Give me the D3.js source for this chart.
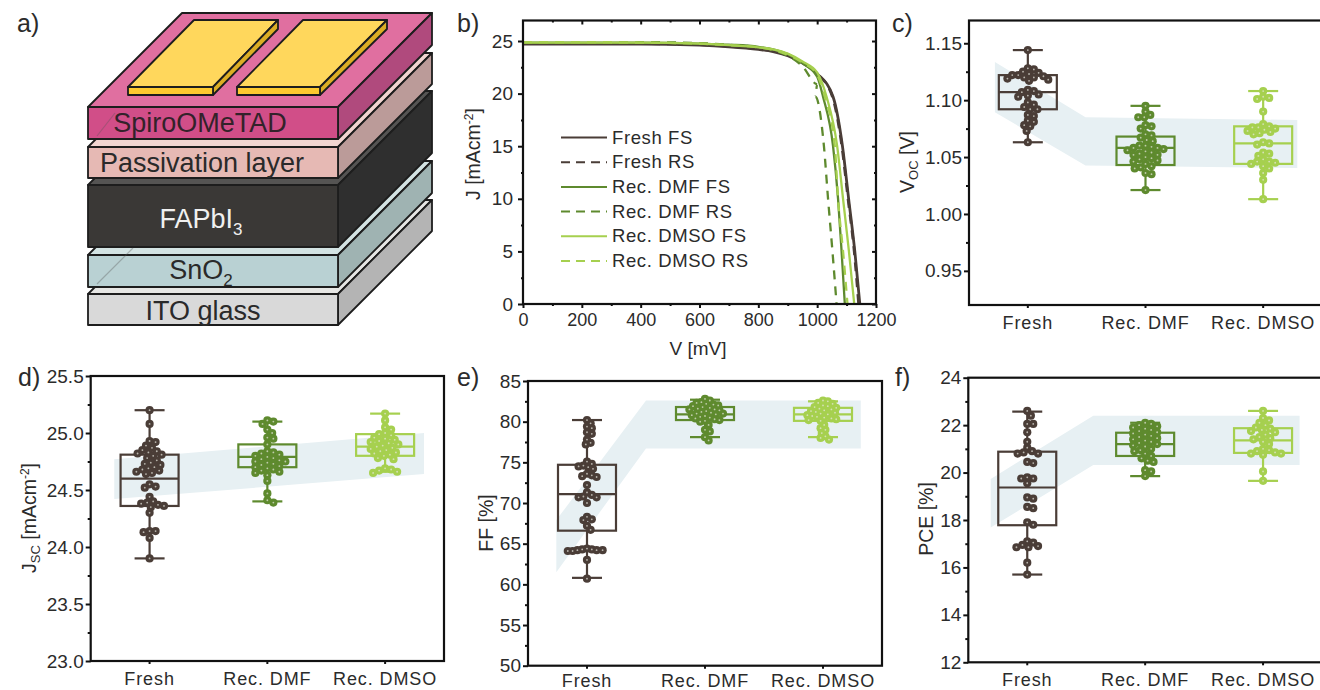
<!DOCTYPE html>
<html><head><meta charset="utf-8">
<script src="https://cdn.jsdelivr.net/npm/d3@7/dist/d3.min.js"></script>
<style>
html,body{margin:0;padding:0;background:#fff;overflow:hidden}
svg{display:block}
text{font-family:"Liberation Sans",Arial,sans-serif;fill:#2b2b2b}
</style></head><body>
<svg id="c" width="1320" height="690"></svg>
<script>
// ---------- data ----------
const categories = ["Fresh","Rec. DMF","Rec. DMSO"];
const seriesNames = ["Fresh FS","Fresh RS","Rec. DMF FS","Rec. DMF RS","Rec. DMSO FS","Rec. DMSO RS"];
const jvVoltage = [0,200,400,600,700,800,850,900,950,1000];
const jvPlateau = [
 [24.7,24.7,24.7,24.6,24.45,24.2,24.0,23.6,22.9,21.9],
 [24.75,24.75,24.75,24.65,24.5,24.25,24.05,23.65,22.95,21.9],
 [24.85,24.85,24.85,24.75,24.65,24.45,24.2,23.75,22.9,21.6],
 [24.9,24.9,24.9,24.8,24.65,24.4,24.15,23.6,22.6,20.9],
 [24.85,24.85,24.85,24.75,24.6,24.4,24.2,23.8,23.05,22.0],
 [24.9,24.9,24.85,24.75,24.6,24.4,24.15,23.7,22.95,21.8]];
const jvTailV = [
 [1054,1086,1107,1128,1145],
 [1052,1084,1105,1126,1141],
 [1020,1054,1071,1083,1094],
 [994,1023,1037,1052,1066],
 [1032,1068,1088,1108,1126],
 [1026,1060,1071,1088,1103]];
const jvTailJ = [19.7,15,10,5,0];

const vocFresh=[1.144,1.128,1.127,1.125,1.124,1.123,1.122,1.122,1.121,1.120,1.120,1.119,1.118,1.117,1.109,1.108,1.107,1.105,1.104,1.103,1.098,1.096,1.094,1.092,1.092,1.087,1.086,1.082,1.081,1.078,1.077,1.073,1.063];
const vocDmf=[1.095,1.09,1.087,1.085,1.085,1.078,1.077,1.075,1.07,1.069,1.067,1.065,1.064,1.06,1.06,1.059,1.058,1.058,1.057,1.056,1.055,1.054,1.053,1.052,1.052,1.05,1.049,1.048,1.047,1.046,1.044,1.042,1.041,1.04,1.036,1.035,1.021];
const vocDmso=[1.108,1.103,1.102,1.101,1.09,1.079,1.077,1.076,1.076,1.075,1.074,1.073,1.072,1.071,1.07,1.063,1.062,1.061,1.054,1.053,1.051,1.048,1.046,1.046,1.045,1.044,1.042,1.04,1.036,1.03,1.013];
const vocBoxes=[[1.063,1.092,1.107,1.122,1.144],[1.021,1.043,1.058,1.068,1.095],[1.013,1.044,1.062,1.077,1.108]];
const vocBand={pos:[-0.28,0.49,2.29],hi:[1.1335,1.085,1.0826],lo:[1.0894,1.0425,1.0404]};

const jscFresh=[25.2,25.08,24.93,24.92,24.89,24.87,24.85,24.84,24.83,24.82,24.81,24.8,24.78,24.76,24.74,24.73,24.72,24.7,24.69,24.68,24.67,24.66,24.65,24.64,24.55,24.53,24.52,24.44,24.4,24.39,24.38,24.37,24.36,24.35,24.3,24.14,24.14,24.13,24.08,23.9];
const jscDmf=[25.11,25.1,25.08,25.03,25.0,24.96,24.95,24.9,24.84,24.83,24.82,24.81,24.8,24.79,24.78,24.77,24.76,24.75,24.75,24.74,24.73,24.72,24.71,24.7,24.69,24.68,24.67,24.66,24.65,24.63,24.58,24.47,24.41,24.39];
const jscDmso=[25.17,25.11,25.05,25.03,25.0,24.99,24.98,24.96,24.95,24.94,24.93,24.92,24.91,24.9,24.89,24.88,24.87,24.86,24.85,24.84,24.83,24.82,24.81,24.8,24.78,24.77,24.69,24.68,24.67,24.66,24.65];
const jscBoxes=[[23.9,24.36,24.6,24.81,25.2],[24.4,24.7,24.79,24.9,25.1],[24.66,24.8,24.88,24.99,25.17]];
const jscBand={pos:[-0.3,2.33],hi:[24.77,25.0],lo:[24.42,24.64]};

const ffFresh=[80.2,79.8,79.4,79.2,78.7,78.5,77.8,77.4,77.2,75.1,74.8,74.6,74.5,74.4,74.2,73.6,73.4,73.3,73.2,72.2,71.3,71.0,70.8,70.7,70.7,70.0,68.3,68.0,67.9,67.2,66.7,64.4,64.3,64.3,64.2,64.2,64.2,64.1,64.1,63.0,60.7];
const ffDmf=[82.8,82.6,82.4,82.3,82.2,82.1,82.0,81.9,81.8,81.7,81.6,81.5,81.5,81.4,81.3,81.2,81.1,81.0,81.0,80.9,80.8,80.7,80.6,80.5,80.4,80.3,80.2,80.1,80.0,79.6,79.0,78.8,78.1,77.7];
const ffDmso=[82.6,82.5,82.3,82.2,82.0,81.9,81.8,81.7,81.6,81.5,81.4,81.3,81.2,81.1,81.0,80.9,80.8,80.7,80.6,80.5,80.4,80.3,80.2,80.1,79.6,79.2,79.0,78.6,78.2,78.0,77.8];
const ffBoxes=[[60.8,66.6,71.1,74.7,80.2],[78.1,80.2,80.9,81.8,82.7],[78.1,80.1,80.9,81.7,82.5]];
const ffBand={pos:[-0.26,0.5,2.32],hi:[67.9,82.6,82.6],lo:[61.5,76.7,76.7]};

const pceFresh=[22.6,22.4,22.05,22.05,21.7,21.3,21.05,20.9,20.85,20.8,20.8,20.45,20.4,19.8,19.75,19.75,19.55,18.95,18.9,18.55,18.5,17.9,17.8,17.1,17.05,16.95,16.9,16.85,16.85,16.2,15.7];
const pceDmf=[22.1,22.05,22.0,21.95,21.9,21.85,21.8,21.75,21.7,21.65,21.6,21.55,21.5,21.45,21.4,21.35,21.3,21.25,21.2,21.15,21.1,21.0,20.95,20.9,20.8,20.7,20.6,20.5,20.45,20.1,20.05,19.85];
const pceDmso=[22.6,22.3,22.2,22.1,22.0,21.9,21.85,21.8,21.75,21.7,21.6,21.5,21.45,21.4,21.3,21.2,21.0,20.95,20.9,20.85,20.8,20.8,20.75,20.05,19.65];
const pceBoxes=[[15.7,17.78,19.37,20.88,22.57],[19.85,20.7,21.2,21.68,22.1],[19.65,20.83,21.36,21.87,22.6]];
const pceBand={pos:[-0.31,0.56,2.31],hi:[19.73,22.4,22.4],lo:[17.68,20.32,20.32]};

// ---------- styles ----------
const colors=["#4a3d37","#5e8a2e","#a6d04f"];
const jvColors=["#4a3d37","#4a3d37","#5e8a2e","#5e8a2e","#a6d04f","#a6d04f"];
const bandColor="#e7f0f3";
const svg=d3.select("#c");

// ---------- schematic (panel a) ----------
const sch=svg.append("g");
const L=88,R=338,DX=94,DY=94;
const layers=[
 {t:294,b:325,top:"#e6e6e4",front:"#d9d9d9",side:"#b4b4b4"},
 {t:255,b:287,top:"#d3e3e3",front:"#b9d1d3",side:"#9fb3b2"},
 {t:185,b:247,top:"#555453",front:"#3a3836",side:"#2f2f2f"},
 {t:147,b:178,top:"#f1d5d1",front:"#e6b9b4",side:"#bb9b99"},
 {t:107,b:139,top:"#e06fa0",front:"#d14e88",side:"#b04a7d"}];
const poly=(g,pts,fill,w=1.8)=>g.append("polygon").attr("points",pts.map(p=>p.join(",")).join(" "))
  .attr("fill",fill).attr("stroke","#1d1d1d").attr("stroke-width",w).attr("stroke-linejoin","round");
layers.forEach(l=>{
  poly(sch,[[L,l.t],[L+DX,l.t-DY],[R+DX,l.t-DY],[R,l.t]],l.top);
  poly(sch,[[R,l.t],[R+DX,l.t-DY],[R+DX,l.b-DY],[R,l.b]],l.side);
  poly(sch,[[L,l.t],[R,l.t],[R,l.b],[L,l.b]],l.front);
});
[[128,213,194,278],[237,320,303,387]].forEach(g=>{
  const [a,b,c,d]=g;
  poly(sch,[[a,87],[c,20],[d,20],[b,87]],"#ffd75c");
  poly(sch,[[b,87],[d,20],[d,29],[b,95]],"#dcae24");
  poly(sch,[[a,87],[b,87],[b,95],[a,95]],"#fdc92f");
});
sch.append("line").attr("x1",97).attr("y1",284).attr("x2",133).attr("y2",248).attr("stroke","#555").attr("stroke-opacity",.35).attr("stroke-width",1.2);
sch.append("line").attr("x1",97).attr("y1",136).attr("x2",115).attr("y2",113).attr("stroke","#555").attr("stroke-opacity",.35).attr("stroke-width",1.2);
function layerText(x,y,txt,sub,fill){
  const t=svg.append("text").attr("x",x).attr("y",y).attr("text-anchor","middle").attr("font-size",27).style("fill",fill);
  t.append("tspan").text(txt);
  if(sub) t.append("tspan").attr("dy",7).attr("font-size",17).text(sub);
}
layerText(200,132,"SpiroOMeTAD",null,"#33222a");
layerText(202,172,"Passivation layer",null,"#2a2a2a");
layerText(201,228,"FAPbI","3","#f0f0f0");
layerText(201,279,"SnO","2","#2a2a2a");
layerText(203,320,"ITO glass",null,"#2a2a2a");

// ---------- helpers ----------
function panelLabel(x,y,s){svg.append("text").attr("x",x).attr("y",y).attr("font-size",25).text(s);}
function frame(g,b){g.append("rect").attr("x",b.x0).attr("y",b.y0).attr("width",b.x1-b.x0).attr("height",b.y1-b.y0).attr("fill","none").attr("stroke","#111").attr("stroke-width",2.2);}
function styleAxis(a,fs){a.select(".domain").remove();a.selectAll(".tick line").attr("stroke","#111").attr("stroke-width",2);a.selectAll("text").attr("font-size",fs).style("fill","#2b2b2b");}
function yTitle(x,y,parts){
  const t=svg.append("text").attr("transform",`translate(${x},${y}) rotate(-90)`).attr("text-anchor","middle").attr("font-size",19.5);
  parts.forEach(p=>{const s=t.append("tspan").text(p.t);
    if(p.sub) s.attr("font-size",13).attr("dy",4);
    if(p.sup) s.attr("font-size",12).attr("dy",-7);
    if(p.back) s.attr("dy",p.back);
  });
}
function swarm(values,y,minD){
  const placed=[];
  return [...values].sort(d3.descending).map(v=>{
    const py=y(v);let best=0,done=false;
    for(let k=0;k<60&&!done;k++){
      const cand=(k%2?1:-1)*Math.ceil(k/2)*1.2;
      if(placed.every(p=>Math.hypot(p.dx-cand,p.py-py)>=minD)){best=cand;done=true;}
    }
    placed.push({dx:best,py});
    return {v,dx:best};
  });
}
function boxPanel(b,dom,major,minor,fmt,band,boxes,pts,minD,pad){
  const g=svg.append("g");
  const y=d3.scaleLinear().domain(dom).range([b.y1,b.y0]);
  const x=d3.scaleBand().domain(categories).range([b.x0,b.x1]);
  const xi=d3.scaleLinear().domain([0,2]).range([x(categories[0])+x.bandwidth()/2,x(categories[2])+x.bandwidth()/2]);
  const area=d3.area().x((d,i)=>xi(band.pos[i])).y0((d,i)=>y(band.lo[i])).y1((d,i)=>y(band.hi[i]));
  g.append("path").attr("d",area(band.pos)).attr("fill",bandColor);
  categories.forEach((c,i)=>{
    const cx=xi(i),col=colors[i],[wl,q1,med,q3,wh]=boxes[i],bg=g.append("g").attr("stroke",col).attr("stroke-width",2.2).attr("fill","none");
    bg.append("rect").attr("x",cx-29).attr("width",58).attr("y",y(q3)).attr("height",y(q1)-y(q3));
    bg.append("line").attr("x1",cx-29).attr("x2",cx+29).attr("y1",y(med)).attr("y2",y(med));
    bg.append("line").attr("x1",cx).attr("x2",cx).attr("y1",y(wh)).attr("y2",y(q3));
    bg.append("line").attr("x1",cx).attr("x2",cx).attr("y1",y(q1)).attr("y2",y(wl));
    [wl,wh].forEach(w=>bg.append("line").attr("x1",cx-15).attr("x2",cx+15).attr("y1",y(w)).attr("y2",y(w)));
    const s=swarm(pts[i],y,minD);
    g.append("g").selectAll("circle").data(s).join("circle").attr("cx",d=>cx+d.dx).attr("cy",d=>y(d.v)).attr("r",4.1).attr("fill",col);
    g.append("g").selectAll("circle").data(s).join("circle").attr("cx",d=>cx+d.dx).attr("cy",d=>y(d.v)).attr("r",0.9).attr("fill","#e8e8e0").attr("fill-opacity",.7);
  });
  frame(g,b);
  const ya=g.append("g").attr("transform",`translate(${b.x0},0)`).call(d3.axisLeft(y).tickValues(major).tickFormat(fmt).tickSize(5).tickPadding(2));
  styleAxis(ya,19);
  const ym=g.append("g").attr("transform",`translate(${b.x0},0)`).call(d3.axisLeft(y).tickValues(minor).tickFormat("").tickSize(3));
  styleAxis(ym,19);
  const xa=g.append("g").attr("transform",`translate(0,${b.y1})`).call(d3.axisBottom(x).tickSize(3).tickPadding(pad));
  styleAxis(xa,18);
  xa.selectAll("text").style("letter-spacing","0.9px");
}

// ---------- panel b ----------
(function(){
  const b={x0:523,x1:876,y0:20.5,y1:304};
  const g=svg.append("g");
  const x=d3.scaleLinear().domain([0,1200]).range([b.x0,b.x1]);
  const y=d3.scaleLinear().domain([0,26.95]).range([b.y1,b.y0]);
  const line=d3.line().x(d=>x(d[0])).y(d=>y(d[1])).curve(d3.curveMonotoneX);
  const order=[0,1,3,2,5,4];
  order.forEach(i=>{
    const pts=jvVoltage.map((v,k)=>[v,jvPlateau[i][k]]).concat(jvTailV[i].map((v,k)=>[v,jvTailJ[k]]));
    g.append("path").attr("d",line(pts)).attr("fill","none").attr("stroke",jvColors[i]).attr("stroke-width",i<2?2.8:2.3)
      .attr("stroke-dasharray",i%2?"9,7":null);
  });
  frame(g,b);
  const ax=(gen,tr,vals,size,txt)=>{const a=g.append("g").attr("transform",tr).call(gen.tickValues(vals).tickSize(size).tickPadding(5));
    if(!txt)a.selectAll("text").remove();styleAxis(a,txt||18);return a;};
  const fx=d3.format("d");
  ax(d3.axisBottom(x).tickFormat(fx),`translate(0,${b.y1})`,d3.range(0,1201,200),4,18);
  ax(d3.axisBottom(x).tickFormat(""),`translate(0,${b.y1})`,d3.range(100,1200,200),2);
  ax(d3.axisLeft(y).tickFormat(fx),`translate(${b.x0},0)`,d3.range(0,26,5),5,19);
  ax(d3.axisLeft(y).tickFormat(""),`translate(${b.x0},0)`,[2.5,7.5,12.5,17.5,22.5],2);
  ax(d3.axisBottom(x).tickFormat(""),`translate(0,${b.y0})`,d3.range(200,1200,200),4);
  ax(d3.axisBottom(x).tickFormat(""),`translate(0,${b.y0})`,d3.range(100,1200,200),2);
  ax(d3.axisLeft(y).tickFormat(""),`translate(${b.x1},0)`,d3.range(0,26,5),4);
  ax(d3.axisLeft(y).tickFormat(""),`translate(${b.x1},0)`,[2.5,7.5,12.5,17.5,22.5],2);
  const ly=d3.scalePoint().domain(seriesNames).range([137.5,261]);
  seriesNames.forEach((s,i)=>{
    g.append("line").attr("x1",561).attr("x2",607).attr("y1",ly(s)).attr("y2",ly(s)).attr("stroke",jvColors[i]).attr("stroke-width",2).attr("stroke-dasharray",i%2?"9,6":null);
    g.append("text").attr("x",612).attr("y",ly(s)+6).attr("font-size",18.5).style("letter-spacing","0.6px").text(s);
  });
  svg.append("text").attr("x",698).attr("y",355).attr("text-anchor","middle").attr("font-size",19).text("V [mV]");
  yTitle(480,154,[{t:"J [mAcm"},{t:"-2",sup:1},{t:"]",back:7}]);
})();

// ---------- box panels ----------
boxPanel({x0:969,x1:1322,y0:20.5,y1:305},[0.92,1.17],[0.95,1,1.05,1.1,1.15],[0.975,1.025,1.075,1.125],d3.format(".2f"),vocBand,vocBoxes,[vocFresh,vocDmf,vocDmso],5.6,8);
boxPanel({x0:90.7,x1:444,y0:376,y1:661},[23,25.5],[23,23.5,24,24.5,25,25.5],[23.25,23.75,24.25,24.75,25.25],d3.format(".1f"),jscBand,jscBoxes,[jscFresh,jscDmf,jscDmso],5.6,8);
boxPanel({x0:528,x1:882,y0:381,y1:665.7},[50,85],[50,55,60,65,70,75,80,85],[52.5,57.5,62.5,67.5,72.5,77.5,82.5],d3.format("d"),ffBand,ffBoxes,[ffFresh,ffDmf,ffDmso],4.8,6);
boxPanel({x0:968.3,x1:1322,y0:377.7,y1:662.3},[12,24],[12,14,16,18,20,22,24],[13,15,17,19,21,23],d3.format("d"),pceBand,pceBoxes,[pceFresh,pceDmf,pceDmso],5.6,8);

yTitle(914,162,[{t:"V"},{t:"OC",sub:1},{t:" [V]",back:-4}]);
yTitle(36,518,[{t:"J"},{t:"SC",sub:1},{t:" [mAcm",back:-4},{t:"-2",sup:1},{t:"]",back:7}]);
yTitle(493,523,[{t:"FF [%]"}]);
yTitle(933,519,[{t:"PCE [%]"}]);

panelLabel(17,32,"a)");panelLabel(457,32,"b)");panelLabel(892,32,"c)");
panelLabel(18,386,"d)");panelLabel(457,386,"e)");panelLabel(895,386,"f)");
</script></body></html>
